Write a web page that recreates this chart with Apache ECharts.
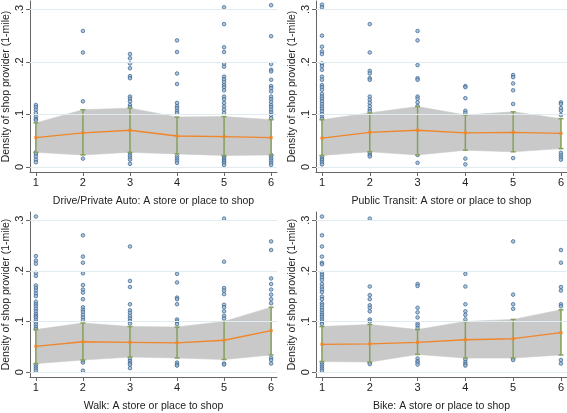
<!DOCTYPE html>
<html><head><meta charset="utf-8">
<script src="https://cdn.jsdelivr.net/npm/echarts@6/dist/echarts.min.js"></script>
<style>html,body{margin:0;padding:0;background:#fff}#c{width:567px;height:413px}</style>
</head><body><div id="c"></div>
<script>
var categories = [1, 2, 3, 4, 5, 6];
var yTicks = [0, 0.1, 0.2, 0.3];
var titles = ["Drive/Private Auto: A store or place to shop", "Public Transit: A store or place to shop", "Walk: A store or place to shop", "Bike: A store or place to shop"];
var yTitle = "Density of shop provider (1-mile)";

var driveMean = [0.056, 0.065, 0.070, 0.059, 0.058, 0.056];
var driveUpper = [0.084, 0.109, 0.112, 0.095, 0.096, 0.090];
var driveLower = [0.028, 0.023, 0.028, 0.025, 0.022, 0.023];
var drivePts = [
  [0.118, 0.114, 0.109, 0.103, 0.096, 0.091, 0.089, 0.028, 0.025, 0.020, 0.014, 0.009],
  [0.259, 0.218, 0.125, 0.016],
  [0.215, 0.207, 0.197, 0.188, 0.173, 0.169, 0.134, 0.130, 0.125, 0.118, 0.114, 0.027, 0.022, 0.018, 0.014, 0.006],
  [0.241, 0.219, 0.178, 0.158, 0.122, 0.116, 0.112, 0.107, 0.103, 0.020, 0.016, 0.012, 0.008],
  [0.304, 0.272, 0.228, 0.219, 0.196, 0.191, 0.172, 0.167, 0.162, 0.156, 0.152, 0.146, 0.134, 0.129, 0.122, 0.115, 0.109, 0.103, 0.020, 0.017, 0.014, 0.011, 0.008, 0.004],
  [0.308, 0.249, 0.196, 0.185, 0.182, 0.166, 0.154, 0.150, 0.144, 0.134, 0.129, 0.124, 0.118, 0.114, 0.109, 0.104, 0.099, 0.093, 0.023, 0.020, 0.016, 0.012, 0.008, 0.004]
];

var transitMean = [0.055, 0.066, 0.070, 0.065, 0.066, 0.064];
var transitUpper = [0.090, 0.103, 0.115, 0.099, 0.105, 0.092];
var transitLower = [0.022, 0.029, 0.023, 0.032, 0.029, 0.035];
var transitPts = [
  [0.309, 0.304, 0.250, 0.229, 0.220, 0.215, 0.197, 0.192, 0.185, 0.172, 0.166, 0.156, 0.152, 0.147, 0.139, 0.134, 0.130, 0.125, 0.120, 0.115, 0.111, 0.106, 0.101, 0.096, 0.092, 0.020, 0.016, 0.013, 0.009, 0.005],
  [0.272, 0.218, 0.183, 0.178, 0.169, 0.166, 0.134, 0.128, 0.122, 0.116, 0.110, 0.106, 0.027, 0.023, 0.020],
  [0.259, 0.241, 0.194, 0.169, 0.166, 0.134, 0.130, 0.123, 0.116, 0.023, 0.008],
  [0.154, 0.152, 0.131, 0.107, 0.103, 0.016, 0.005],
  [0.175, 0.171, 0.159, 0.146, 0.120, 0.017],
  [0.123, 0.120, 0.112, 0.107, 0.099, 0.027, 0.022, 0.018, 0.014]
];

var walkMean = [0.051, 0.060, 0.059, 0.058, 0.063, 0.082];
var walkUpper = [0.084, 0.097, 0.090, 0.089, 0.100, 0.128];
var walkLower = [0.017, 0.024, 0.030, 0.028, 0.025, 0.034];
var walkPts = [
  [0.307, 0.229, 0.220, 0.214, 0.196, 0.190, 0.171, 0.166, 0.161, 0.155, 0.150, 0.139, 0.134, 0.130, 0.125, 0.120, 0.115, 0.111, 0.108, 0.103, 0.098, 0.094, 0.089, 0.085, 0.015, 0.011, 0.007, 0.003],
  [0.270, 0.228, 0.216, 0.195, 0.172, 0.163, 0.157, 0.144, 0.128, 0.123, 0.119, 0.113, 0.108, 0.103, 0.022, 0.019, 0.003],
  [0.248, 0.180, 0.168, 0.134, 0.122, 0.117, 0.111, 0.106, 0.101, 0.096, 0.027, 0.022, 0.018, 0.015, 0.008],
  [0.194, 0.177, 0.147, 0.144, 0.134, 0.104, 0.100, 0.095, 0.019, 0.015, 0.013],
  [0.303, 0.218, 0.166, 0.161, 0.154, 0.133, 0.128, 0.120, 0.111, 0.106, 0.017, 0.015],
  [0.258, 0.241, 0.185, 0.174, 0.163, 0.153, 0.144, 0.136, 0.028, 0.024, 0.017]
];

var bikeMean = [0.055, 0.056, 0.059, 0.064, 0.066, 0.078];
var bikeUpper = [0.090, 0.094, 0.084, 0.100, 0.104, 0.123];
var bikeLower = [0.021, 0.020, 0.035, 0.028, 0.028, 0.034];
var bikePts = [
  [0.307, 0.270, 0.248, 0.228, 0.216, 0.213, 0.196, 0.192, 0.187, 0.182, 0.174, 0.168, 0.163, 0.158, 0.149, 0.144, 0.136, 0.132, 0.127, 0.122, 0.117, 0.113, 0.109, 0.104, 0.100, 0.095, 0.019, 0.015, 0.011, 0.007, 0.003],
  [0.303, 0.169, 0.152, 0.144, 0.132, 0.127, 0.120, 0.104, 0.100, 0.019, 0.016],
  [0.174, 0.170, 0.127, 0.118, 0.108, 0.096, 0.092, 0.087, 0.027, 0.022, 0.019, 0.015],
  [0.194, 0.169, 0.134, 0.120, 0.113, 0.104, 0.025, 0.020, 0.016, 0.013],
  [0.258, 0.153, 0.134, 0.125, 0.027, 0.024],
  [0.241, 0.216, 0.168, 0.161, 0.134, 0.130, 0.024, 0.017]
];

var panels = [
  {mean: driveMean, upper: driveUpper, lower: driveLower, pts: drivePts},
  {mean: transitMean, upper: transitUpper, lower: transitLower, pts: transitPts},
  {mean: walkMean, upper: walkUpper, lower: walkLower, pts: walkPts},
  {mean: bikeMean, upper: bikeUpper, lower: bikeLower, pts: bikePts}
];

var gridPos = [
  {left: 25, top: 1, width: 252, height: 171},
  {left: 316, top: 1, width: 251, height: 171},
  {left: 25, top: 212, width: 252, height: 171},
  {left: 316, top: 212, width: 251, height: 171}
];

var FONT = 'Liberation Sans, Arial, sans-serif';
var grids = [], xAxes = [], yAxes = [], series = [];

panels.forEach(function (p, i) {
  grids.push(gridPos[i]);
  xAxes.push({
    type: 'value', gridIndex: i, min: 0.875, max: 6.125,
    name: titles[i], nameLocation: 'middle', nameGap: 24,
    nameTextStyle: {fontFamily: FONT, fontSize: 10.5, color: '#222'},
    axisLine: {show: true, onZero: false, lineStyle: {color: '#666', width: 1}},
    axisTick: {show: true, length: 4, customValues: categories, lineStyle: {color: '#666'}},
    axisLabel: {customValues: categories, fontFamily: FONT, fontSize: 11, color: '#222', margin: 5,
      formatter: function (v) { return String(v); }},
    splitLine: {show: false}
  });
  yAxes.push({
    type: 'value', gridIndex: i, min: -0.0095, max: 0.316,
    name: yTitle, nameLocation: 'middle', nameGap: 18, nameRotate: 90,
    nameTextStyle: {fontFamily: FONT, fontSize: 10.5, color: '#222'},
    axisLine: {show: true, onZero: false, lineStyle: {color: '#666', width: 1}},
    axisTick: {show: true, length: 4, customValues: yTicks, lineStyle: {color: '#666'}},
    axisLabel: {customValues: yTicks, rotate: 90, fontFamily: FONT, fontSize: 11, color: '#222', margin: 5,
      formatter: function (v) { return Math.abs(v) < 1e-9 ? '0' : '.' + Math.round(v * 10); }},
    splitLine: {show: false}
  });

  var scatterData = [];
  categories.forEach(function (c, k) {
    p.pts[k].forEach(function (v) { scatterData.push([c, v]); });
  });

  // gridlines via markLine on an invisible carrier
  series.push({
    type: 'line', xAxisIndex: i, yAxisIndex: i, data: [], silent: true, z: 1,
    markLine: {
      silent: true, symbol: ['none', 'none'], label: {show: false},
      lineStyle: {color: '#e0ecf0', width: 1, type: 'solid'},
      data: yTicks.map(function (t) { return {yAxis: t}; })
    }
  });

  series.push({
    type: 'scatter', xAxisIndex: i, yAxisIndex: i, data: scatterData, z: 2,
    symbol: 'circle', symbolSize: 3.6, silent: true,
    itemStyle: {color: '#9fb6cf', borderColor: '#33628f', borderWidth: 0.9}
  });

  // confidence band: one quadrilateral per segment between adjacent categories
  var bandData = [];
  for (var k = 0; k < categories.length - 1; k++) {
    bandData.push([categories[k], p.lower[k], p.upper[k], categories[k + 1], p.lower[k + 1], p.upper[k + 1]]);
  }
  series.push({
    type: 'custom', xAxisIndex: i, yAxisIndex: i, z: 3, silent: true,
    data: bandData,
    encode: {x: [0, 3], y: [1, 2, 4, 5]},
    renderItem: function (params, api) {
      var a = api.coord([api.value(0), api.value(1)]);
      var b = api.coord([api.value(0), api.value(2)]);
      var c = api.coord([api.value(3), api.value(5)]);
      var d = api.coord([api.value(3), api.value(4)]);
      return {type: 'polygon', shape: {points: [a, b, c, d]},
        style: {fill: '#c9c9c9', stroke: '#c9c9c9', lineWidth: 0.6}};
    }
  });

  series.push({
    type: 'custom', xAxisIndex: i, yAxisIndex: i, z: 4, silent: true,
    data: categories.map(function (c, k) { return [c, p.lower[k], p.upper[k]]; }),
    encode: {x: 0, y: [1, 2]},
    renderItem: function (params, api) {
      var lo = api.coord([api.value(0), api.value(1)]);
      var hi = api.coord([api.value(0), api.value(2)]);
      var w = 2.5;
      var st = {stroke: '#86a05a', lineWidth: 1.5};
      return {type: 'group', children: [
        {type: 'line', shape: {x1: lo[0], y1: lo[1], x2: hi[0], y2: hi[1]}, style: st},
        {type: 'line', shape: {x1: lo[0] - w, y1: lo[1], x2: lo[0] + w, y2: lo[1]}, style: st},
        {type: 'line', shape: {x1: hi[0] - w, y1: hi[1], x2: hi[0] + w, y2: hi[1]}, style: st}
      ]};
    }
  });

  series.push({
    type: 'line', xAxisIndex: i, yAxisIndex: i, z: 5, silent: true,
    data: categories.map(function (c, k) { return [c, p.mean[k]]; }),
    symbol: 'rect', symbolSize: 3, showSymbol: true,
    lineStyle: {color: '#f0862a', width: 1.3},
    itemStyle: {color: '#f0862a'}
  });
});

var chart = echarts.init(document.getElementById('c'), null, {renderer: 'canvas'});
chart.setOption({
  animation: false,
  backgroundColor: '#fff',
  grid: grids, xAxis: xAxes, yAxis: yAxes, series: series
});
</script></body></html>
